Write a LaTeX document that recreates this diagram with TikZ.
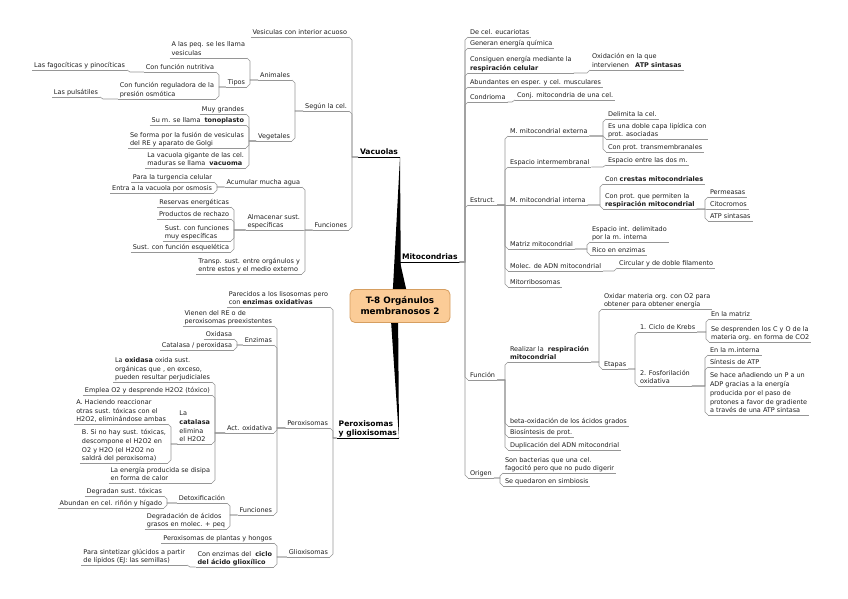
\documentclass[tikz,border=0pt]{standalone}
\usepackage{fontspec}
\setmainfont{DejaVu Sans}
\usepackage{tikz}
\usetikzlibrary{calc}

\definecolor{linegray}{RGB}{150,150,150}
\definecolor{textgray}{RGB}{30,30,30}
\definecolor{peach}{RGB}{251,204,151}
\definecolor{peachdark}{RGB}{214,158,96}

\begin{document}
\begin{tikzpicture}[x=1pt, y=-1pt,
  topic/.style={font=\fontsize{6.5pt}{8.7pt}\selectfont, text=textgray, align=left,
    inner xsep=2pt, inner ysep=1pt, text depth=1.3pt, outer sep=0pt,
    append after command={(\tikzlastnode.south west) edge[draw=linegray, line width=0.6pt] (\tikzlastnode.south east)}},
  lt/.style={topic, anchor=south east},
  rt/.style={topic, anchor=south west},
  maintopic/.style={font=\fontsize{7.6pt}{9.5pt}\selectfont\bfseries, align=left,
    inner xsep=2pt, inner ysep=1pt, text depth=1.3pt, outer sep=0pt,
    append after command={(\tikzlastnode.south west) edge[draw=black, line width=0.8pt] (\tikzlastnode.south east)}},
  central/.style={draw=peachdark, fill=peach, rounded corners=5pt, line width=0.8pt,
    minimum width=100pt, minimum height=33pt, align=center,
    font=\fontsize{8.8pt}{11pt}\selectfont\bfseries},
  link/.style={draw=linegray, line width=0.6pt},
  goleft/.style={to path={let \p1=(\tikztostart), \p2=(\tikztotarget),
    \n1={(\y1)>(\y2) ? min(3pt,\y1-(\y2)) : -min(3pt,\y2-(\y1))} in
    -- ({\x2+3pt},\y1) -- ({\x2+3pt},{\y2+(\n1)}) -- (\tikztotarget)}},
  goright/.style={to path={let \p1=(\tikztostart), \p2=(\tikztotarget),
    \n1={(\y1)>(\y2) ? min(3pt,\y1-(\y2)) : -min(3pt,\y2-(\y1))} in
    -- ({\x2-3pt},\y1) -- ({\x2-3pt},{\y2+(\n1)}) -- (\tikztotarget)}}
]
  \useasboundingbox (0,0) rectangle (848,599);

  % Main topics
  \node[maintopic, anchor=south east] (vac) at (400,157) {Vacuolas};
  \node[maintopic, anchor=south west] (mito) at (400,262) {Mitocondrias};
  \node[maintopic, anchor=south east] (perox) at (399,438) {Peroxisomas\\y glioxisomas};

  % Tapered branches and central topic
  \coordinate (hub) at (400,306);
  \fill (vac.south east) -- ($(hub)+(-8,0)$) -- ($(hub)+(1,0)$) -- cycle;
  \fill (mito.south west) -- ($(hub)+(1,0)$) -- ($(hub)+(10,0)$) -- cycle;
  \fill (perox.south east) -- ($(hub)+(-10,0)$) -- ($(hub)+(-2,0)$) -- cycle;
  \node[central] (ctr) at (hub) {T-8 Orgánulos\\membranosos 2};

  % Vacuolas
  \node[lt] (vesic) at (349,37) {Vesiculas con interior acuoso};
  \node[lt] (segun) at (349,111) {Según la cel.};
  \node[lt] (vfunc) at (349,230) {Funciones};
  \node[lt] (anim) at (292,80) {Animales};
  \node[lt] (veget) at (292,141) {Vegetales};
  \node[lt] (peq) at (247,58) {A las peq. se les llama\\vesiculas};
  \node[lt] (tipos) at (247,87) {Tipos};
  \node[lt] (nutri) at (216,72) {Con función nutritiva};
  \node[lt] (regul) at (216,99) {Con función reguladora de la\\presión osmótica};
  \node[lt] (fagoc) at (127,70) {Las fagocíticas y pinocíticas};
  \node[lt] (pulsat) at (100,97) {Las pulsátiles};
  \node[lt] (grandes) at (246,114) {Muy grandes};
  \node[lt] (tonopl) at (246,125) {Su m. se llama~ \textbf{tonoplasto}};
  \node[lt] (fusion) at (246,148) {Se forma por la fusión de vesiculas\\del RE y aparato de Golgi};
  \node[lt] (vacuoma) at (246,168) {La vacuola gigante de las cel.\\maduras se llama~ \textbf{vacuoma}};
  \node[lt] (acum) at (302,187) {Acumular mucha agua};
  \node[lt] (almac) at (302,230) {Almacenar sust.\\específicas};
  \node[lt] (transp) at (302,274) {Transp. sust. entre orgánulos y\\entre estos y el medio externo};
  \node[lt] (turg) at (214,182) {Para la turgencia celular};
  \node[lt] (osmo) at (214,193) {Entra a la vacuola por osmosis};
  \node[lt] (reserv) at (231,207) {Reservas energéticas};
  \node[lt] (rechazo) at (231,219) {Productos de rechazo};
  \node[lt] (muyesp) at (231,241) {Sust. con funciones\\muy específicas};
  \node[lt] (esquel) at (231,252) {Sust. con función esquelética};

  % Mitocondrias
  \node[rt] (euca) at (468,37) {De cel. eucariotas};
  \node[rt] (energ) at (468,48) {Generan energía química};
  \node[rt] (consig) at (468,73) {Consiguen energía mediante la\\\textbf{respiración celular}};
  \node[rt] (atpsint) at (590,70) {Oxidación en la que\\intervienen~~ \textbf{ATP sintasas}};
  \node[rt] (abund) at (468,87) {Abundantes en esper. y cel. musculares};
  \node[rt] (condr) at (468,102) {Condrioma};
  \node[rt] (conj) at (515,100) {Conj. mitocondria de una cel.};
  \node[rt] (estr) at (468,205) {Estruct.};
  \node[rt] (func) at (468,380) {Función};
  \node[rt] (orig) at (468,478) {Origen};
  \node[rt] (mext) at (508,136) {M. mitocondrial externa};
  \node[rt] (einter) at (508,167) {Espacio intermembranal};
  \node[rt] (mint) at (508,205) {M. mitocondrial interna};
  \node[rt] (matriz) at (508,249) {Matriz mitocondrial};
  \node[rt] (adn) at (508,271) {Molec. de ADN mitocondrial};
  \node[rt] (ribo) at (508,287) {Mitorribosomas};
  \node[rt] (delim) at (606,119) {Delimita la cel.};
  \node[rt] (doble) at (606,139) {Es una doble capa lipídica con\\prot. asociadas};
  \node[rt] (transm) at (606,152) {Con prot. transmembranales};
  \node[rt] (dosm) at (606,165) {Espacio entre las dos m.};
  \node[rt] (crestas) at (603,184) {Con \textbf{crestas mitocondriales}};
  \node[rt] (protres) at (603,209) {Con prot. que permiten la\\\textbf{respiración mitocondrial}};
  \node[rt] (perm) at (708,197) {Permeasas};
  \node[rt] (citoc) at (708,209) {Citocromos};
  \node[rt] (atps) at (708,221) {ATP sintasas};
  \node[rt] (espint) at (590,242) {Espacio int. delimitado\\por la m. interna};
  \node[rt] (rico) at (590,255) {Rico en enzimas};
  \node[rt] (circ) at (617,268) {Circular y de doble filamento};
  \node[rt] (realiz) at (508,362) {Realizar la~ \textbf{respiración}\\\textbf{mitocondrial}};
  \node[rt] (oxidar) at (602,309) {Oxidar materia org. con O2 para\\obtener para obtener energía};
  \node[rt] (etapas) at (602,369) {Etapas};
  \node[rt] (krebs) at (638,332) {1. Ciclo de Krebs};
  \node[rt] (fosfo) at (638,386) {2. Fosforilación\\oxidativa};
  \node[rt] (enmatriz) at (709,319) {En la matriz};
  \node[rt] (desprend) at (709,342) {Se desprenden los C y O de la\\materia org. en forma de CO2};
  \node[rt] (eninter) at (708,355) {En la m.interna};
  \node[rt] (sintatp) at (708,367) {Síntesis de ATP};
  \node[rt] (sehace) at (708,415) {Se hace añadiendo un P a un\\ADP gracias a la energía\\producida por el paso de\\protones a favor de gradiente\\a través de una ATP sintasa};
  \node[rt] (betaox) at (508,426) {beta-oxidación de los ácidos grados};
  \node[rt] (biosint) at (508,437) {Biosíntesis de prot.};
  \node[rt] (dupl) at (508,450) {Duplicación del ADN mitocondrial};
  \node[rt] (bact) at (503,473) {Son bacterias que una cel.\\fagocitó pero que no pudo digerir};
  \node[rt] (simb) at (503,486) {Se quedaron en simbiosis};

  % Peroxisomas y glioxisomas
  \node[lt] (parec) at (330,307) {Parecidos a los lisosomas pero\\con \textbf{enzimas oxidativas}};
  \node[lt] (perx) at (330,428) {Peroxisomas};
  \node[lt] (gliox) at (330,557) {Glioxisomas};
  \node[lt] (vienen) at (274,326) {Vienen del RE o de\\peroxisomas preexistentes};
  \node[lt] (enzim) at (274,345) {Enzimas};
  \node[lt] (actox) at (274,433) {Act. oxidativa};
  \node[lt] (pfunc) at (274,515) {Funciones};
  \node[lt] (oxidasa) at (234,339) {Oxidasa};
  \node[lt] (catal) at (234,350) {Catalasa / peroxidasa};
  \node[lt] (laoxid) at (212,382) {La \textbf{oxidasa} oxida sust.\\orgánicas que , en exceso,\\pueden resultar perjudiciales};
  \node[lt] (emplea) at (212,395) {Emplea O2 y desprende H2O2 (tóxico)};
  \node[lt] (lacat) at (212,444) {La\\\textbf{catalasa}\\elimina\\el H2O2};
  \node[lt] (calor) at (212,483) {La energía producida se disipa\\en forma de calor};
  \node[lt] (hacA) at (168,424) {A. Haciendo reaccionar\\otras sust. tóxicas con el\\H2O2, eliminándose ambas};
  \node[lt] (siB) at (168,463) {B. Si no hay sust. tóxicas,\\descompone el H2O2 en\\O2 y H2O (el H2O2 no\\saldrá del peroxisoma)};
  \node[lt] (detox) at (227,503) {Detoxificación};
  \node[lt] (degrad) at (227,529) {Degradación de ácidos\\grasos en molec. + peq};
  \node[lt] (degsust) at (164,496) {Degradan sust. tóxicas};
  \node[lt] (rinon) at (164,508) {Abundan en cel. riñón y hígado};
  \node[lt] (plantas) at (274,543) {Peroxisomas de plantas y hongos};
  \node[lt] (ciclo) at (274,567) {Con enzimas del~ \textbf{ciclo}\\\textbf{del ácido glioxílico}};
  \node[lt] (sintet) at (187,565) {Para sintetizar glúcidos a partir\\de lípidos (EJ: las semillas)};

  % Links, Vacuolas
  \draw[link] (vac.south west) to[goleft] (vesic.south east);
  \draw[link] (vac.south west) to[goleft] (segun.south east);
  \draw[link] (vac.south west) to[goleft] (vfunc.south east);
  \draw[link] (segun.south west) to[goleft] (anim.south east);
  \draw[link] (segun.south west) to[goleft] (veget.south east);
  \draw[link] (anim.south west) to[goleft] (peq.south east);
  \draw[link] (anim.south west) to[goleft] (tipos.south east);
  \draw[link] (tipos.south west) to[goleft] (nutri.south east);
  \draw[link] (tipos.south west) to[goleft] (regul.south east);
  \draw[link] (nutri.south west) to[goleft] (fagoc.south east);
  \draw[link] (regul.south west) to[goleft] (pulsat.south east);
  \draw[link] (veget.south west) to[goleft] (grandes.south east);
  \draw[link] (veget.south west) to[goleft] (tonopl.south east);
  \draw[link] (veget.south west) to[goleft] (fusion.south east);
  \draw[link] (veget.south west) to[goleft] (vacuoma.south east);
  \draw[link] (vfunc.south west) to[goleft] (acum.south east);
  \draw[link] (vfunc.south west) to[goleft] (almac.south east);
  \draw[link] (vfunc.south west) to[goleft] (transp.south east);
  \draw[link] (acum.south west) to[goleft] (turg.south east);
  \draw[link] (acum.south west) to[goleft] (osmo.south east);
  \draw[link] (almac.south west) to[goleft] (reserv.south east);
  \draw[link] (almac.south west) to[goleft] (rechazo.south east);
  \draw[link] (almac.south west) to[goleft] (muyesp.south east);
  \draw[link] (almac.south west) to[goleft] (esquel.south east);

  % Links, Mitocondrias
  \draw[link] (mito.south east) to[goright] (euca.south west);
  \draw[link] (mito.south east) to[goright] (energ.south west);
  \draw[link] (mito.south east) to[goright] (consig.south west);
  \draw[link] (mito.south east) to[goright] (abund.south west);
  \draw[link] (mito.south east) to[goright] (condr.south west);
  \draw[link] (mito.south east) to[goright] (estr.south west);
  \draw[link] (mito.south east) to[goright] (func.south west);
  \draw[link] (mito.south east) to[goright] (orig.south west);
  \draw[link] (consig.south east) to[goright] (atpsint.south west);
  \draw[link] (condr.south east) to[goright] (conj.south west);
  \draw[link] (estr.south east) to[goright] (mext.south west);
  \draw[link] (estr.south east) to[goright] (einter.south west);
  \draw[link] (estr.south east) to[goright] (mint.south west);
  \draw[link] (estr.south east) to[goright] (matriz.south west);
  \draw[link] (estr.south east) to[goright] (adn.south west);
  \draw[link] (estr.south east) to[goright] (ribo.south west);
  \draw[link] (mext.south east) to[goright] (delim.south west);
  \draw[link] (mext.south east) to[goright] (doble.south west);
  \draw[link] (mext.south east) to[goright] (transm.south west);
  \draw[link] (einter.south east) to[goright] (dosm.south west);
  \draw[link] (mint.south east) to[goright] (crestas.south west);
  \draw[link] (mint.south east) to[goright] (protres.south west);
  \draw[link] (protres.south east) to[goright] (perm.south west);
  \draw[link] (protres.south east) to[goright] (citoc.south west);
  \draw[link] (protres.south east) to[goright] (atps.south west);
  \draw[link] (matriz.south east) to[goright] (espint.south west);
  \draw[link] (matriz.south east) to[goright] (rico.south west);
  \draw[link] (adn.south east) to[goright] (circ.south west);
  \draw[link] (func.south east) to[goright] (realiz.south west);
  \draw[link] (func.south east) to[goright] (betaox.south west);
  \draw[link] (func.south east) to[goright] (biosint.south west);
  \draw[link] (func.south east) to[goright] (dupl.south west);
  \draw[link] (realiz.south east) to[goright] (oxidar.south west);
  \draw[link] (realiz.south east) to[goright] (etapas.south west);
  \draw[link] (etapas.south east) to[goright] (krebs.south west);
  \draw[link] (etapas.south east) to[goright] (fosfo.south west);
  \draw[link] (krebs.south east) to[goright] (enmatriz.south west);
  \draw[link] (krebs.south east) to[goright] (desprend.south west);
  \draw[link] (fosfo.south east) to[goright] (eninter.south west);
  \draw[link] (fosfo.south east) to[goright] (sintatp.south west);
  \draw[link] (fosfo.south east) to[goright] (sehace.south west);
  \draw[link] (orig.south east) to[goright] (bact.south west);
  \draw[link] (orig.south east) to[goright] (simb.south west);

  % Links, Peroxisomas y glioxisomas
  \draw[link] (perox.south west) to[goleft] (parec.south east);
  \draw[link] (perox.south west) to[goleft] (perx.south east);
  \draw[link] (perox.south west) to[goleft] (gliox.south east);
  \draw[link] (perx.south west) to[goleft] (vienen.south east);
  \draw[link] (perx.south west) to[goleft] (enzim.south east);
  \draw[link] (perx.south west) to[goleft] (actox.south east);
  \draw[link] (perx.south west) to[goleft] (pfunc.south east);
  \draw[link] (enzim.south west) to[goleft] (oxidasa.south east);
  \draw[link] (enzim.south west) to[goleft] (catal.south east);
  \draw[link] (actox.south west) to[goleft] (laoxid.south east);
  \draw[link] (actox.south west) to[goleft] (emplea.south east);
  \draw[link] (actox.south west) to[goleft] (lacat.south east);
  \draw[link] (actox.south west) to[goleft] (calor.south east);
  \draw[link] (lacat.south west) to[goleft] (hacA.south east);
  \draw[link] (lacat.south west) to[goleft] (siB.south east);
  \draw[link] (pfunc.south west) to[goleft] (detox.south east);
  \draw[link] (pfunc.south west) to[goleft] (degrad.south east);
  \draw[link] (detox.south west) to[goleft] (degsust.south east);
  \draw[link] (detox.south west) to[goleft] (rinon.south east);
  \draw[link] (gliox.south west) to[goleft] (plantas.south east);
  \draw[link] (gliox.south west) to[goleft] (ciclo.south east);
  \draw[link] (ciclo.south west) to[goleft] (sintet.south east);
\end{tikzpicture}
\end{document}
